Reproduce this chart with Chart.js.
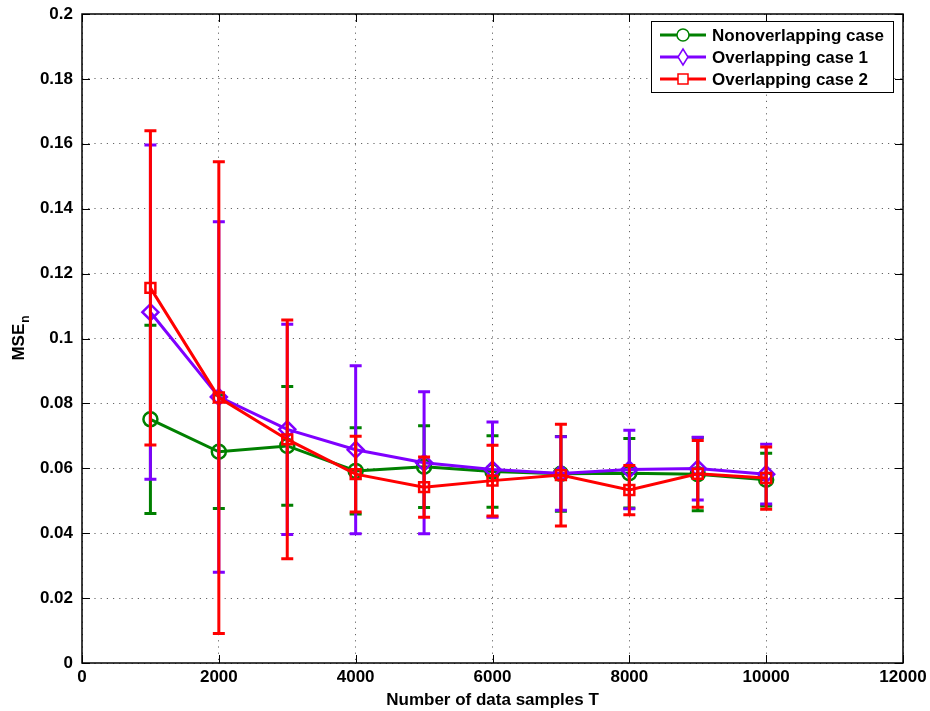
<!DOCTYPE html>
<html>
<head>
<meta charset="utf-8">
<script src="https://cdn.jsdelivr.net/npm/chart.js@4"></script>
<style>
  html, body { margin: 0; padding: 0; background: #fff; }
  #grafico { display: block; }
</style>
</head>
<body>
<canvas id="grafico" width="930" height="711"></canvas>
<script>
// dados
const amostras = [1000, 2000, 3000, 4000, 5000, 6000, 7000, 8000, 9000, 10000];
const xTicks = [0, 2000, 4000, 6000, 8000, 10000, 12000];
const yTicks = [0, 0.02, 0.04, 0.06, 0.08, 0.1, 0.12, 0.14, 0.16, 0.18, 0.2];

const mseNonoverlap = [0.0751, 0.0651, 0.0669, 0.0592, 0.0605, 0.0590, 0.0583, 0.0585, 0.0582, 0.0565];
const errNonoverlap = [0.0290, 0.0175, 0.0183, 0.0133, 0.0126, 0.0110, 0.0115, 0.0107, 0.0113, 0.0081];

const mseOverlap1 = [0.1081, 0.0820, 0.0720, 0.0657, 0.0617, 0.0596, 0.0584, 0.0596, 0.0599, 0.0582];
const errOverlap1 = [0.0515, 0.0540, 0.0324, 0.0259, 0.0219, 0.0147, 0.0113, 0.0121, 0.0097, 0.0092];

const mseOverlap2 = [0.1156, 0.0818, 0.0689, 0.0582, 0.0542, 0.0562, 0.0579, 0.0533, 0.0583, 0.0570];
const errOverlap2 = [0.0484, 0.0727, 0.0368, 0.0117, 0.0093, 0.0109, 0.0157, 0.0076, 0.0103, 0.0096];

const familia = '"Liberation Sans", Arial, Helvetica, sans-serif';
const fonte = 'bold 17px ' + familia;

function serie(label, cor, valores, erros, estilo, raio, ordem) {
    return {
        label: label,
        data: amostras.map((x, i) => ({ x: x, y: valores[i] })),
        erros: erros,
        borderColor: cor,
        backgroundColor: 'transparent',
        borderWidth: 3,
        pointStyle: estilo,
        pointRadius: raio,
        pointBorderWidth: 2.5,
        pointBorderColor: cor,
        pointBackgroundColor: 'transparent',
        tension: 0,
        order: ordem
    };
}

// barras de erro, eixos estilo MATLAB, legenda e título y
const pluginMatlab = {
    id: 'matlab',
    beforeDatasetDraw(chart, args) {
        const ds = chart.data.datasets[args.index];
        const xs = chart.scales.x, ys = chart.scales.y;
        const ctx = chart.ctx;
        ctx.save();
        ctx.strokeStyle = ds.borderColor;
        ctx.lineWidth = 3;
        ds.data.forEach((p, i) => {
            const px = xs.getPixelForValue(p.x);
            const top = ys.getPixelForValue(p.y + ds.erros[i]);
            const bot = ys.getPixelForValue(p.y - ds.erros[i]);
            ctx.beginPath();
            ctx.moveTo(px, top); ctx.lineTo(px, bot);
            ctx.moveTo(px - 6, top); ctx.lineTo(px + 6, top);
            ctx.moveTo(px - 6, bot); ctx.lineTo(px + 6, bot);
            ctx.stroke();
        });
        ctx.restore();
    },
    afterDraw(chart) {
        const ctx = chart.ctx;
        const a = chart.chartArea;
        const xs = chart.scales.x, ys = chart.scales.y;
        ctx.save();
        // moldura
        ctx.strokeStyle = '#000';
        ctx.lineWidth = 1.5;
        ctx.strokeRect(a.left, a.top, a.right - a.left, a.bottom - a.top);
        // ticks para dentro
        ctx.lineWidth = 1;
        ctx.beginPath();
        xTicks.forEach(v => {
            const px = Math.round(xs.getPixelForValue(v)) + 0.5;
            ctx.moveTo(px, a.bottom); ctx.lineTo(px, a.bottom - 8);
            ctx.moveTo(px, a.top); ctx.lineTo(px, a.top + 8);
        });
        yTicks.forEach(v => {
            const py = Math.round(ys.getPixelForValue(v)) + 0.5;
            ctx.moveTo(a.left, py); ctx.lineTo(a.left + 8, py);
            ctx.moveTo(a.right, py); ctx.lineTo(a.right - 8, py);
        });
        ctx.stroke();

        // título do eixo y com subscrito
        ctx.fillStyle = '#000';
        ctx.translate(24, (a.top + a.bottom) / 2);
        ctx.rotate(-Math.PI / 2);
        const fonteSub = 'bold 12px ' + familia;
        ctx.font = fonte;
        const w1 = ctx.measureText('MSE').width;
        ctx.font = fonteSub;
        const w2 = ctx.measureText('n').width;
        ctx.textBaseline = 'alphabetic';
        ctx.font = fonte;
        ctx.fillText('MSE', -(w1 + w2) / 2, 0);
        ctx.font = fonteSub;
        ctx.fillText('n', -(w1 + w2) / 2 + w1 + 1, 5);
        ctx.setTransform(1, 0, 0, 1, 0, 0);

        // legenda
        const lx = 651, ly = 21, lw = 242, lh = 71;
        ctx.fillStyle = '#fff';
        ctx.fillRect(lx, ly, lw, lh);
        ctx.strokeStyle = '#000';
        ctx.lineWidth = 1;
        ctx.strokeRect(lx + 0.5, ly + 0.5, lw, lh);
        [0, 1, 2].forEach((idx, k) => {
            const ds = chart.data.datasets[idx];
            const y = ly + 14 + k * 22;
            ctx.strokeStyle = ds.borderColor;
            ctx.lineWidth = 3;
            ctx.beginPath();
            ctx.moveTo(lx + 9, y); ctx.lineTo(lx + 55, y);
            ctx.stroke();
            ctx.fillStyle = '#fff';
            ctx.lineWidth = 1.5;
            ctx.beginPath();
            if (ds.pointStyle === 'circle') {
                ctx.arc(lx + 32, y, 6, 0, Math.PI * 2);
            } else if (ds.pointStyle === 'rect') {
                ctx.rect(lx + 27, y - 5, 10, 10);
            } else {
                ctx.moveTo(lx + 32, y - 8); ctx.lineTo(lx + 37, y);
                ctx.lineTo(lx + 32, y + 8); ctx.lineTo(lx + 27, y); ctx.closePath();
            }
            ctx.fill();
            ctx.stroke();
            ctx.fillStyle = '#000';
            ctx.font = fonte;
            ctx.textBaseline = 'middle';
            ctx.fillText(ds.label, lx + 61, y + 1);
        });
        ctx.restore();
    }
};

const fonteEixo = { family: familia, size: 17, weight: 'bold' };

const grafico = new Chart(document.getElementById('grafico'), {
    type: 'line',
    data: {
        datasets: [
            serie('Nonoverlapping case', '#008000', mseNonoverlap, errNonoverlap, 'circle', 7, 2),
            serie('Overlapping case 1', '#7f00ff', mseOverlap1, errOverlap1, 'rectRot', 8, 1),
            serie('Overlapping case 2', '#ff0000', mseOverlap2, errOverlap2, 'rect', 7, 0)
        ]
    },
    options: {
        responsive: false,
        animation: false,
        layout: { padding: { left: 0, right: 27, top: 14, bottom: 0 } },
        plugins: {
            legend: { display: false },
            tooltip: { enabled: false }
        },
        scales: {
            x: {
                type: 'linear',
                min: 0, max: 12000,
                afterBuildTicks: (s) => { s.ticks = xTicks.map(v => ({ value: v })); },
                afterFit: (s) => { s.height = 48; s.paddingLeft = 0; s.paddingRight = 0; },
                grid: { color: 'rgba(0,0,0,0.6)', drawTicks: false, lineWidth: 1 },
                border: { display: false, dash: [1.2, 5] },
                ticks: { color: '#000', font: fonteEixo, padding: 4, maxRotation: 0,
                         callback: (v) => String(v) },
                title: { display: true, text: 'Number of data samples T', color: '#000',
                         font: fonteEixo, padding: { top: -6, bottom: 0 } }
            },
            y: {
                type: 'linear',
                min: 0, max: 0.2,
                afterBuildTicks: (s) => { s.ticks = yTicks.map(v => ({ value: v })); },
                afterFit: (s) => { s.width = 82; s.paddingTop = 0; s.paddingBottom = 0; },
                grid: { color: 'rgba(0,0,0,0.6)', drawTicks: false, lineWidth: 1 },
                border: { display: false, dash: [1.2, 5] },
                ticks: { color: '#000', font: fonteEixo, padding: 9,
                         callback: (v) => String(Number(v.toFixed(2))) }
            }
        }
    },
    plugins: [pluginMatlab]
});
</script>
</body>
</html>
